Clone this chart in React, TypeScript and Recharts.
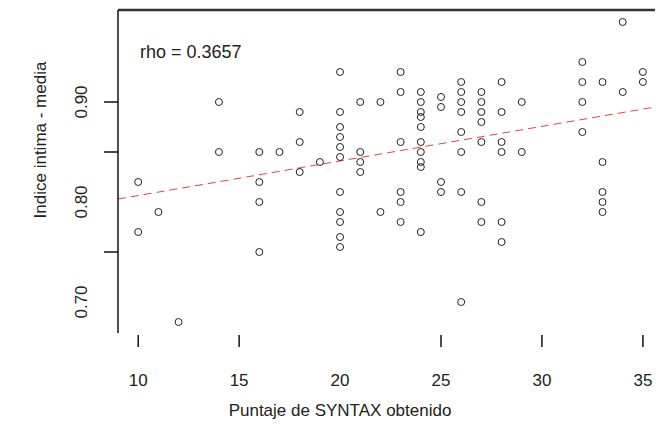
import React from "react";
import {
  ScatterChart,
  Scatter,
  XAxis,
  YAxis,
  ReferenceLine,
} from "recharts";

// SYNTAX score columns and the IMT values read at each one
const syntaxScores = [10, 11, 12, 14, 16, 17, 18, 19, 20, 21, 22, 23, 24, 25, 26, 27, 28, 29, 32, 33, 34, 35];
const imtByScore = [
  [0.82, 0.77],
  [0.79],
  [0.68],
  [0.9, 0.85],
  [0.85, 0.82, 0.8, 0.75],
  [0.85],
  [0.89, 0.86, 0.83],
  [0.84],
  [0.93, 0.89, 0.875, 0.865, 0.855, 0.845, 0.81, 0.79, 0.78, 0.765, 0.755],
  [0.9, 0.85, 0.84, 0.83],
  [0.9, 0.79],
  [0.93, 0.91, 0.86, 0.81, 0.8, 0.78],
  [0.91, 0.9, 0.89, 0.885, 0.875, 0.86, 0.85, 0.84, 0.835, 0.77],
  [0.905, 0.895, 0.82, 0.81],
  [0.92, 0.91, 0.9, 0.89, 0.87, 0.85, 0.81, 0.7],
  [0.91, 0.9, 0.89, 0.88, 0.86, 0.8, 0.78],
  [0.92, 0.89, 0.86, 0.85, 0.78, 0.76],
  [0.9, 0.85],
  [0.94, 0.92, 0.9, 0.87],
  [0.92, 0.84, 0.81, 0.8, 0.79],
  [0.98, 0.91],
  [0.93, 0.92],
];

// fitted regression line
const fitLine = [
  { x: 9, y: 0.803 },
  { x: 35.6, y: 0.895 },
];

const xDomain = [9, 35.6];
const yDomain = [0.669, 0.992];
const xTicks = [10, 15, 20, 25, 30, 35];
const xTickMarks = [10, 15, 25, 30, 35];
const yTicks = [0.7, 0.75, 0.8, 0.85, 0.9];
const yTickLabels = [0.7, 0.8, 0.9];
const yTickMarks = [0.75, 0.85, 0.9];

const points = syntaxScores.flatMap((s, i) => imtByScore[i].map((v) => ({ score: s, imt: v })));

const FONT = '"Liberation Sans", Arial, sans-serif';

const XTick = (props: any) => {
  const { x, y, payload } = props;
  return (
    <g>
      {xTickMarks.includes(payload.value) && (
        <line x1={x} x2={x} y1={y + 2} y2={y + 14} stroke="#111" strokeWidth={1.5} />
      )}
      <text x={x} y={y + 53} textAnchor="middle" fontSize={17} fill="#222" fontFamily={FONT}>
        {payload.value}
      </text>
    </g>
  );
};

const YTick = (props: any) => {
  const { x, y, payload } = props;
  const v = Math.round(payload.value * 100) / 100;
  return (
    <g>
      {yTickMarks.includes(v) && <line x1={x - 14} x2={x} y1={y} y2={y} stroke="#111" strokeWidth={1.5} />}
      {yTickLabels.includes(v) && (
        <text
          x={x - 37}
          y={y}
          transform={`rotate(-90, ${x - 37}, ${y})`}
          textAnchor="middle"
          dominantBaseline="central"
          fontSize={17}
          fill="#222"
          fontFamily={FONT}
        >
          {v.toFixed(2)}
        </text>
      )}
    </g>
  );
};

const Circle = (props: any) => (
  <circle cx={props.cx} cy={props.cy} r={3.5} fill="none" stroke="#222" strokeWidth={1} />
);

export default function App() {
  return (
    <div style={{ position: "absolute", left: 0, top: 0, width: 656, height: 430, background: "#fff" }}>
      <ScatterChart width={656} height={430} margin={{ top: 10, right: 1, bottom: 0, left: 0 }}>
        <XAxis
          type="number"
          dataKey="score"
          domain={xDomain}
          ticks={xTicks}
          interval={0}
          height={97}
          axisLine={false}
          tickLine={false}
          tickSize={0}
          tickMargin={0}
          tick={<XTick />}
          label={{
            content: () => (
              <text x={340} y={416} textAnchor="middle" fontSize={17} fill="#222" fontFamily={FONT}>
                Puntaje de SYNTAX obtenido
              </text>
            ),
          }}
        />
        <YAxis
          type="number"
          dataKey="imt"
          domain={yDomain}
          ticks={yTicks}
          interval={0}
          width={118}
          axisLine={{ stroke: "#111", strokeWidth: 1.5 }}
          tickLine={false}
          tickSize={0}
          tickMargin={0}
          tick={<YTick />}
          label={{
            content: () => (
              <g>
                <text
                  x={40}
                  y={140}
                  transform="rotate(-90, 40, 140)"
                  textAnchor="middle"
                  dominantBaseline="central"
                  fontSize={17}
                  fill="#222"
                  fontFamily={FONT}
                >
                  Indice intima - media
                </text>
                <text x={140} y={58} fontSize={18} fill="#222" fontFamily={FONT}>
                  rho = 0.3657
                </text>
              </g>
            ),
          }}
        />
        {/* top edge of the plot box */}
        <ReferenceLine y={yDomain[1]} stroke="#333" strokeWidth={2.5} />
        <ReferenceLine
          segment={fitLine}
          stroke="#e0463f"
          strokeWidth={1}
          strokeDasharray="8 5"
        />
        <Scatter data={points} shape={<Circle />} isAnimationActive={false} />
      </ScatterChart>
    </div>
  );
}
